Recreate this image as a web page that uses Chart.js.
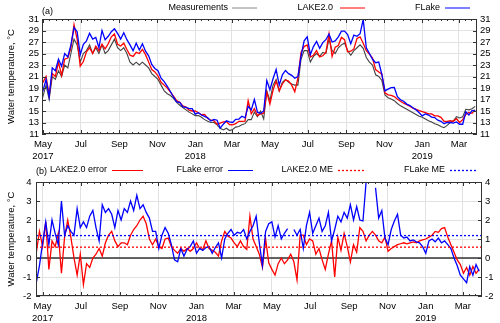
<!DOCTYPE html>
<html>
<head>
<meta charset="utf-8">
<script src="https://cdn.jsdelivr.net/npm/chart.js@4/dist/chart.umd.min.js"></script>
<style>
  html, body { margin: 0; padding: 0; background: #fff; }
  #wrap { position: relative; width: 500px; height: 323px; }
  .panel { position: absolute; left: 0; width: 500px; }
  #top { top: 0; height: 160px; }
  #bottom { top: 160px; height: 163px; }
</style>
</head>
<body>
<div id="wrap">
  <div class="panel" id="top"><canvas id="tempChart"></canvas></div>
  <div class="panel" id="bottom"><canvas id="errChart"></canvas></div>
</div>
<script>
// days counted from 1 May 2017, one value every 5 days starting at day -10
const firstDay = -10
const stepDays = 5

const measured = [
  17.0, 18.5, 17.5, 19.5, 17.0, 21.0, 20.5, 22.0, 21.0, 23.0,
  22.5, 25.0, 27.5, 26.5, 23.5, 25.0, 25.5, 26.5, 25.0, 26.0,
  25.0, 26.5, 25.0, 25.5, 26.5, 27.5, 26.0, 25.5, 26.0, 25.0,
  23.5, 23.0, 23.5, 23.0, 23.5, 23.0, 22.5, 21.5, 21.0, 20.5,
  19.5, 18.5, 18.0, 17.7, 17.2, 16.5, 16.0, 15.6, 15.2, 14.8,
  14.5, 14.2, 14.2, 13.9, 13.5, 13.2, 13.0, 13.0, 12.6, 12.0,
  11.7, 12.0, 11.6, 11.8, 12.2, 12.3, 12.6, 12.8, 13.5, 13.5,
  14.8, 14.0, 15.0, 13.6, 18.5, 16.8, 19.5, 20.5, 18.5, 20.0,
  20.5, 20.0, 19.7, 19.5, 19.5, 24.0, 25.5, 25.5, 23.5, 24.5,
  25.0, 24.5, 25.2, 25.0, 27.5, 25.5, 25.0, 26.0, 26.5, 26.8,
  25.5, 24.7, 25.5, 26.0, 26.5, 25.9, 24.3, 23.5, 23.0, 21.3,
  21.0, 20.3, 17.8, 17.3, 17.1, 16.8, 16.3, 15.9, 15.6, 15.3,
  15.0, 14.7, 14.4, 14.1, 13.9, 13.6, 13.3, 13.1, 12.8, 12.6,
  12.3, 12.1, 12.5, 13.0, 13.3, 14.0, 13.8, 14.0, 15.3, 15.2,
  15.4, 15.8
]

const lake = [
  18.5, 20.0, 20.0, 21.0, 17.8, 21.5, 21.0, 23.5, 21.2, 24.0,
  24.2, 26.0, 30.0, 27.5, 22.8, 23.6, 25.3, 26.0, 25.0, 26.3,
  25.5, 26.6, 25.8, 26.7, 27.9, 28.4, 26.6, 26.3, 26.8, 25.7,
  24.7, 24.5, 25.2, 25.0, 25.7, 24.8, 23.5, 22.2, 21.8, 21.1,
  20.0, 19.5, 19.0, 18.3, 17.6, 16.8, 16.5, 15.9, 15.7, 15.15,
  15.0, 15.0, 14.7, 14.35, 14.4, 13.7, 13.4, 13.3, 12.7, 12.9,
  13.1, 13.15, 12.65, 12.6, 12.8, 13.2, 13.2, 13.25, 16.8, 14.5,
  15.4, 14.2, 14.5, 14.6, 18.25, 16.2, 18.6, 20.2, 18.5, 19.7,
  20.4, 20.2, 19.5, 18.35, 20.7, 25.2, 26.2, 26.5, 24.4, 24.7,
  25.5, 24.4, 24.6, 25.2, 28.4, 24.5, 26.1, 26.4, 27.8, 27.4,
  25.3, 25.4, 25.8, 27.6, 27.9, 26.8, 25.5, 24.9, 24.2, 22.2,
  21.8, 21.4, 18.15, 17.8, 17.7, 17.5, 17.05, 16.7, 16.35, 16.1,
  15.85, 15.5, 15.3, 15.05, 14.9, 14.7, 14.5, 14.5, 14.15, 14.15,
  13.9, 13.2, 13.2, 13.3, 13.2, 13.65, 13.0, 13.5, 14.4, 14.75,
  14.6, 15.2
]

const flake = [
  17.5, 19.0, 18.5, 20.5, 17.5, 22.5, 22.0, 24.0, 22.8, 25.0,
  24.4, 26.5, 29.5, 28.8, 24.8, 26.6, 27.2, 28.5, 27.5, 27.8,
  26.0, 29.0, 27.4, 28.0, 28.8, 29.3, 28.5, 27.5, 28.6, 27.4,
  26.5, 25.5, 26.8, 25.6, 26.7, 25.4, 24.6, 23.1, 22.4, 22.0,
  20.7, 20.1, 19.3, 18.4, 17.4, 16.6, 16.5, 15.7, 15.65, 15.4,
  15.4, 14.45, 14.7, 14.3, 14.05, 13.8, 13.25, 13.55, 13.4, 12.0,
  12.7, 13.3, 13.1, 13.0, 13.55, 13.6, 14.1, 13.8, 15.8, 15.2,
  17.0, 14.8, 14.6, 15.0, 20.3, 18.7, 20.6, 22.2, 19.5, 21.3,
  22.05, 21.5, 21.2, 20.7, 21.0, 24.5, 27.2, 27.9, 24.8, 26.2,
  27.1, 25.9, 26.9, 27.4, 28.4, 27.0, 27.2, 27.9, 28.9, 28.9,
  28.3, 26.7, 28.2, 28.0, 28.45, 30.9, 26.0, 25.0, 24.0, 23.4,
  23.5, 21.35, 18.5, 18.8, 19.05, 19.1, 17.5, 16.95, 16.7, 16.2,
  15.95, 15.55, 15.2, 14.7, 14.15, 14.5, 14.3, 13.95, 13.85, 13.4,
  13.2, 12.8, 13.0, 13.0, 12.9, 13.1, 12.7, 12.7, 14.85, 14.3,
  15.05, 15.1
]

const lakeErr = [
  0.3, 1.4, 0.6, 1.9, -0.6, 0.9, 0.6, 1.3, -0.8, 1.1,
  2.0, 1.1, 0.0, -0.9, 0.2, -1.4, -0.3, -0.5, 0.0, 0.2,
  0.5, 0.1, 0.8, 1.2, 1.4, 0.9, 0.6, 0.8, 0.8, 0.7,
  1.2, 1.5, 1.7, 2.0, 2.2, 1.8, 1.0, 0.7, 1.0, 0.6,
  0.5, 1.0, 1.05, 0.6, 0.4, 0.25, 0.5, 0.35, 0.5, 0.35,
  0.5, 0.8, 0.5, 0.45, 0.9, 0.5, 0.4, 0.3, 0.1, 0.9,
  1.4, 1.15, 1.05, 0.8, 0.6, 0.9, 0.6, 0.45, 2.2, 1.0,
  0.6, 0.2, -0.5, 1.0, -0.25, -0.6, -0.9, -0.3, 0.0, -0.3,
  -0.1, 0.2, -0.2, -1.15, 1.2, 1.2, 0.7, 1.0, 0.9, 0.2,
  0.5, -0.1, -0.6, 0.2, 0.9, -1.0, 1.1, 0.4, 1.3, 0.6,
  -0.2, 0.7, 0.3, 1.6, 1.4, 0.9, 1.2, 1.4, 1.2, 0.9,
  0.8, 1.1, 0.35, 0.5, 0.6, 0.7, 0.75, 0.8, 0.75, 0.8,
  0.85, 0.8, 0.9, 0.95, 1.0, 1.1, 1.2, 1.4, 1.35, 1.55,
  1.6, 1.1, 0.7, 0.3, -0.1, -0.35, -0.8, -0.5, -0.9, -0.45,
  -0.8, -0.6
]

const flakeErr = [
  -1.3, -0.4, 0.8, 1.9, 0.7, 2.0, 1.3, 0.7, 3.0, 1.2,
  1.7, 1.4, 1.2, 2.6, 1.6, 1.9, 1.6, 2.2, 2.5, 1.6,
  0.9, 2.8, 2.4, 2.6, 2.3, 1.6, 2.5, 2.0, 2.6, 2.4,
  3.0, 2.5, 3.3, 2.6, 2.8, 2.4, 2.1, 1.4, 1.4, 0.5,
  1.2, 1.6, 1.3, 0.7, -0.1, -0.2, 0.5, 0.1, 0.45, 0.6,
  0.9, 0.25, 0.5, 0.4, 0.55, 0.6, 0.25, 0.55, 0.8, 0.0,
  1.0, 1.3, 1.5, 1.2, 1.35, 1.3, 1.5, 1.0, 1.4, 1.7,
  2.2, 0.8, -0.4, 1.4, 1.8, 1.9, 1.1, 1.7, 1.0, 1.3,
  1.55, null, 1.5, 1.2, 1.5, 0.5, 1.7, 2.4, 1.3, 1.7,
  2.1, 1.4, 1.7, 2.4, 0.9, 1.5, 2.2, 1.9, 2.4, 2.1,
  2.8, 2.0, 2.7, 2.0, 1.95, 4.0, null, null, 3.7, 2.1,
  2.5, 1.05, 0.7, 1.5, 1.95, 2.3, 1.2, 1.05, 1.1, 0.9,
  0.95, 0.85, 0.8, 0.6, 0.25, 0.9, 1.0, 0.85, 1.05, 0.8,
  0.9, 0.7, 0.5, 0.0, -0.4, -0.9, -1.1, -1.3, -0.45, -0.9,
  -0.35, -0.7
]

const lakeME = 0.57
const flakeME = 1.18

const monthDays = [ 0, 61, 123, 184, 245, 304, 365, 426, 488, 549, 610, 669 ]
const monthLabels = [ [ 'May', '2017' ], 'Jul', 'Sep', 'Nov', [ 'Jan', '2018' ], 'Mar',
  'May', 'Jul', 'Sep', 'Nov', [ 'Jan', '2019' ], 'Mar' ]

const RED = '#ff0000'
const BLUE = '#0000ff'
const GRAY = '#444444'
const GRID = '#e2e2e2'

Chart.defaults.font.family = "'Liberation Sans', Arial, sans-serif"
Chart.defaults.font.size = 9.5
Chart.defaults.color = '#000'
Chart.defaults.animation = false

function toPoints( values ) {
  return values.map( ( v, i ) => ( { x: firstDay + i * stepDays, y: v } ) )
}

function line( values, color, order, dashed, width ) {
  return {
    data: values,
    borderColor: color,
    borderWidth: width || 1.3,
    borderDash: dashed ? [ 2, 2 ] : [],
    pointRadius: 0,
    tension: 0,
    spanGaps: false,
    clip: 0,
    order: order
  }
}

// frame, inward tics and the gnuplot style key
const gnuplotLook = {
  id: 'gnuplotLook',
  afterDatasetsDraw( chart ) {
    const { ctx, chartArea: area } = chart
    const x = chart.scales.x
    const y = chart.scales.y
    ctx.save()
    ctx.strokeStyle = '#333'
    ctx.lineWidth = 1
    ctx.beginPath()

    const major = x.ticks.map( t => t.value )
    let minor = []
    for ( let i = 0; i < major.length - 1; i++ ) {
      const sub = ( major[ i + 1 ] - major[ i ] ) / 6
      for ( let k = 1; k < 6; k++ ) minor.push( major[ i ] + k * sub )
    }
    const firstSub = ( major[ 1 ] - major[ 0 ] ) / 6
    for ( let v = major[ 0 ] - firstSub; v >= x.min; v -= firstSub ) minor.push( v )
    const n = major.length
    const lastSub = ( major[ n - 1 ] - major[ n - 2 ] ) / 6
    for ( let v = major[ n - 1 ] + lastSub; v <= x.max; v += lastSub ) minor.push( v )

    const tickX = ( v, len ) => {
      const px = Math.round( x.getPixelForValue( v ) ) + 0.5
      ctx.moveTo( px, area.bottom ); ctx.lineTo( px, area.bottom - len )
      ctx.moveTo( px, area.top ); ctx.lineTo( px, area.top + len )
    }
    major.forEach( v => tickX( v, 4 ) )
    minor.forEach( v => tickX( v, 2 ) )

    y.ticks.forEach( t => {
      const py = Math.round( y.getPixelForValue( t.value ) ) + 0.5
      ctx.moveTo( area.left, py ); ctx.lineTo( area.left + 4, py )
      ctx.moveTo( area.right, py ); ctx.lineTo( area.right - 4, py )
    } )
    ctx.stroke()
    ctx.strokeRect( Math.round( area.left ) + 0.5, Math.round( area.top ) + 0.5,
      Math.round( area.width ) - 1, Math.round( area.height ) - 1 )
    ctx.restore()
  },
  afterDraw( chart, args, opts ) {
    const ctx = chart.ctx
    ctx.save()
    ctx.font = "9px 'Liberation Sans', Arial, sans-serif"
    ctx.fillStyle = '#000'
    ctx.textBaseline = 'middle'
    ctx.textAlign = 'left'
    ctx.fillText( opts.tag, chart.chartArea.left, opts.tagY )
    ctx.textAlign = 'right'
    opts.items.forEach( it => {
      ctx.fillText( it.text, it.right, opts.rowY )
      ctx.strokeStyle = it.color
      ctx.lineWidth = it.dashed ? 1.3 : 1
      ctx.setLineDash( it.dashed ? [ 2, 2 ] : [] )
      ctx.beginPath()
      ctx.moveTo( it.from, opts.rowY + 0.5 )
      ctx.lineTo( it.to, opts.rowY + 0.5 )
      ctx.stroke()
    } )
    ctx.restore()
  }
}

function makeScales( p ) {
  return {
    x: {
      type: 'linear',
      min: p.xMin,
      max: p.xMax,
      afterBuildTicks: s => { s.ticks = monthDays.map( v => ( { value: v } ) ) },
      afterFit: s => { s.height = p.bottom },
      ticks: {
        autoSkip: false,
        maxRotation: 0,
        padding: 5,
        callback: ( v, i ) => monthLabels[ i ]
      },
      grid: { color: GRID, lineWidth: 1, drawTicks: false },
      border: { display: false }
    },
    y: {
      position: 'left',
      min: p.yMin,
      max: p.yMax,
      afterFit: s => { s.width = p.left },
      ticks: { stepSize: p.yStep, padding: p.leftPad, autoSkip: false },
      title: {
        display: true,
        text: 'Water temperature, °C',
        padding: { top: 6, bottom: 0 }
      },
      grid: { color: GRID, lineWidth: 1, drawTicks: false },
      border: { display: false }
    },
    y2: {
      position: 'right',
      min: p.yMin,
      max: p.yMax,
      afterFit: s => { s.width = p.right },
      ticks: { stepSize: p.yStep, padding: 3, autoSkip: false },
      grid: { display: false, drawTicks: false },
      border: { display: false }
    }
  }
}

const topRange = { xMin: -1.5, xMax: 698 }
const bottomRange = { xMin: -10.5, xMax: 699.5 }

new Chart( document.getElementById( 'tempChart' ), {
  type: 'line',
  data: {
    datasets: [
      line( toPoints( measured ), GRAY, 2, false, 1.1 ),
      line( toPoints( lake ), RED, 1 ),
      line( toPoints( flake ), BLUE, 0 )
    ]
  },
  options: {
    responsive: true,
    maintainAspectRatio: false,
    layout: { padding: { top: 19, left: 0, right: 0, bottom: 0 } },
    scales: makeScales( { ...topRange, yMin: 11, yMax: 31, yStep: 2, left: 42, right: 23, bottom: 26, leftPad: 3 } ),
    plugins: {
      legend: { display: false },
      tooltip: { enabled: false },
      gnuplotLook: {
        tag: '(a)',
        tagY: 12,
        rowY: 7.5,
        items: [
          { text: 'Measurements', right: 228, from: 232, to: 257, color: '#888888' },
          { text: 'LAKE2.0', right: 333, from: 340, to: 365, color: RED },
          { text: 'FLake', right: 440, from: 445, to: 470, color: BLUE }
        ]
      }
    }
  },
  plugins: [ gnuplotLook ]
} )

new Chart( document.getElementById( 'errChart' ), {
  type: 'line',
  data: {
    datasets: [
      line( [ { x: bottomRange.xMin, y: 0 }, { x: bottomRange.xMax, y: 0 } ], '#333', 5, false, 1.3 ),
      line( toPoints( lakeErr ), RED, 3 ),
      line( toPoints( flakeErr ), BLUE, 2 ),
      line( [ { x: bottomRange.xMin, y: lakeME }, { x: bottomRange.xMax, y: lakeME } ], RED, 1, true, 1.3 ),
      line( [ { x: bottomRange.xMin, y: flakeME }, { x: bottomRange.xMax, y: flakeME } ], BLUE, 0, true, 1.3 )
    ]
  },
  options: {
    responsive: true,
    maintainAspectRatio: false,
    layout: { padding: { top: 22, left: 0, right: 0, bottom: 0 } },
    scales: makeScales( { ...bottomRange, yMin: -2, yMax: 4, yStep: 1, left: 36, right: 18, bottom: 27, leftPad: 4.5 } ),
    plugins: {
      legend: { display: false },
      tooltip: { enabled: false },
      gnuplotLook: {
        tag: '(b)',
        tagY: 11.5,
        rowY: 10,
        items: [
          { text: 'LAKE2.0 error', right: 107, from: 112, to: 143, color: RED },
          { text: 'FLake error', right: 223, from: 228, to: 253, color: BLUE },
          { text: 'LAKE2.0 ME', right: 333, from: 338, to: 365, color: RED, dashed: true },
          { text: 'FLake ME', right: 445, from: 450, to: 477, color: BLUE, dashed: true }
        ]
      }
    }
  },
  plugins: [ gnuplotLook ]
} )
</script>
</body>
</html>
